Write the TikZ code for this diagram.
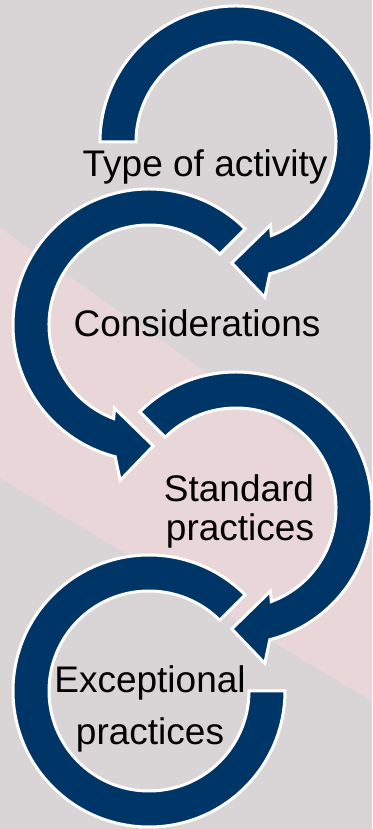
\documentclass[tikz,border=0pt]{standalone}
\usepackage{fontspec}
\setmainfont{Liberation Sans}
\usetikzlibrary{calc}
\definecolor{navy}{RGB}{0,53,103}
\definecolor{bggray}{RGB}{217,213,214}
\definecolor{bgpink}{RGB}{232,214,216}
\tikzset{
  band/.style={fill=navy, draw=white, line width=3pt, line join=miter},
  label/.style={font=\fontsize{37}{41}\selectfont, text=black, inner sep=0pt, anchor=base}
}
\begin{document}
\begin{tikzpicture}[x=1pt,y=1pt]
  % backdrop with the diagonal pink band
  \fill[bggray] (0,0) rectangle (372,829);
  \fill[bgpink] (0,601) -- (372,341) -- (372,128) -- (0,351) -- cycle;
  \useasboundingbox (0,0) rectangle (372,829);

  % ring centres
  \coordinate (C1) at (236,687);
  \coordinate (C2) at (149,504);
  \coordinate (C3) at (236,321);
  \coordinate (C4) at (149,138);

  % ring 1: clockwise arrow, open on the left
  \begin{scope}[shift={(C1)}]
    \path[band] (180:136) arc[start angle=180, end angle=-75.6, radius=136]
      -- (-79.5:158) -- (-92:121) -- (-67.5:90) -- (-69.3:100)
      arc[start angle=-69.3, end angle=180, radius=100] -- cycle;
  \end{scope}

  % ring 2: counter-clockwise arrow
  \begin{scope}[shift={(C2)}]
    \path[band] (45:136) arc[start angle=45, end angle=255.6, radius=136]
      -- (259.5:158) -- (272:121) -- (247.5:90) -- (249.3:100)
      arc[start angle=249.3, end angle=45, radius=100] -- cycle;
  \end{scope}

  % ring 3: clockwise arrow
  \begin{scope}[shift={(C3)}]
    \path[band] (135:136) arc[start angle=135, end angle=-75.6, radius=136]
      -- (-79.5:158) -- (-92:121) -- (-67.5:90) -- (-69.3:100)
      arc[start angle=-69.3, end angle=135, radius=100] -- cycle;
  \end{scope}

  % ring 4: open ring, no arrowhead
  \begin{scope}[shift={(C4)}]
    \path[band] (45:136) arc[start angle=45, end angle=360, radius=136]
      -- (0:100) arc[start angle=360, end angle=45, radius=100] -- cycle;
  \end{scope}

  % step labels
  \node[label] (t1) at (205,652) {Type of activity};
  \node[label] (t2) at (197,492) {Considerations};
  \node[label] (t3a) at (239,327) {Standard};
  \node[label] (t3b) at (240,288) {practices};
  \node[label] (t4a) at (150,136) {Exceptional};
  \node[label] (t4b) at (150,84) {practices};
\end{tikzpicture}
\end{document}
